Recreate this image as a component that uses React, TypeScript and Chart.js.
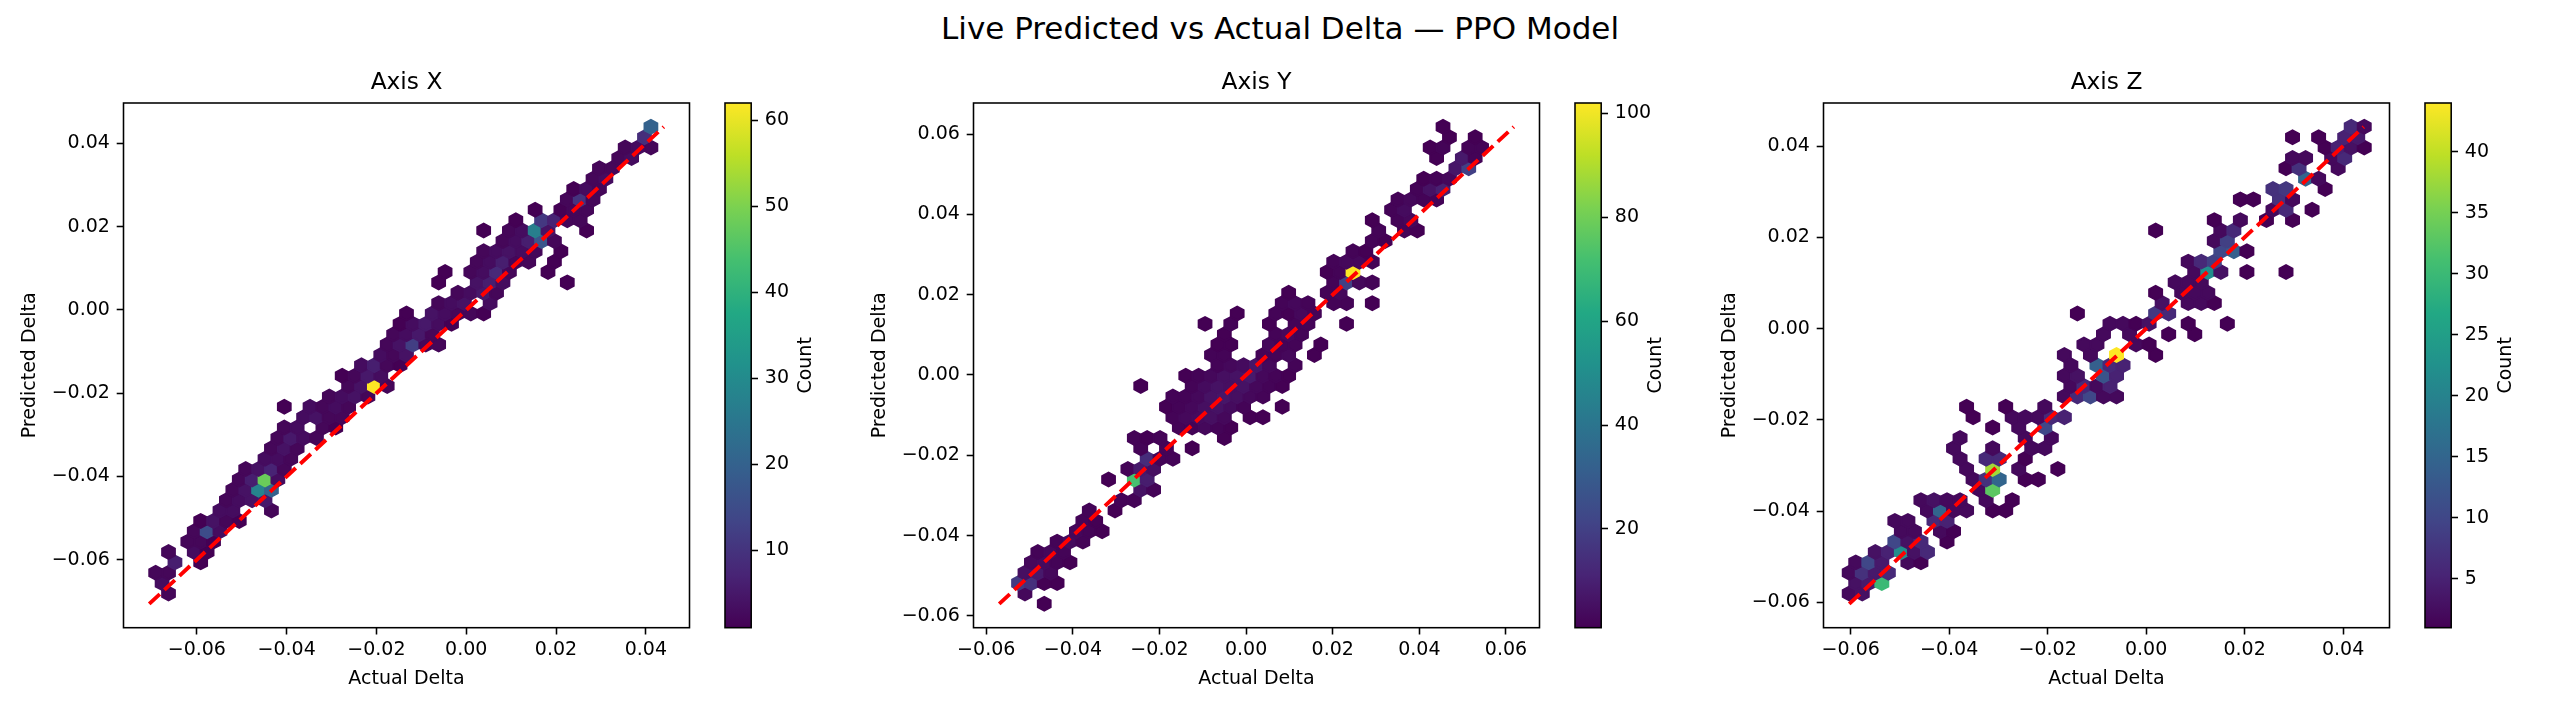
import React, { useEffect, useRef } from 'react'
import { Chart, registerables } from 'chart.js'

Chart.register(...registerables)

const FONT = "'DejaVu Sans', 'Liberation Sans', sans-serif"
Chart.defaults.font.family = FONT
Chart.defaults.color = '#000'

// diagonal (ideal) line end points per axis
const lineX = [-0.0706, 0.044]
const lineY = [-0.057, 0.0618]
const lineZ = [-0.0603, 0.0442]

// hex lattice per panel: [x0, y0, half column step, half row step] (data units)
// a cell [col, row, count] sits at x = x0 + col * hx, y = y0 + row * hy
const hexGridX = [-0.0706, -0.0706, 0.0014325, 0.0024913]
const hexGridY = [-0.057, -0.057, 0.001485, 0.0025826]
const hexGridZ = [-0.0603, -0.0603, 0.001324, 0.002272]

const ticksX = [-0.06, -0.04, -0.02, 0, 0.02, 0.04]
const ticksY = [-0.06, -0.04, -0.02, 0, 0.02, 0.04, 0.06]
const ticksZ = [-0.06, -0.04, -0.02, 0, 0.02, 0.04]

const cbTicksX = [10, 20, 30, 40, 50, 60]
const cbTicksY = [20, 40, 60, 80, 100]
const cbTicksZ = [5, 10, 15, 20, 25, 30, 35, 40]

const cellsX = [
  [3, 1, 2], [2, 2, 3], [1, 3, 2], [3, 3, 2], [4, 4, 6], [8, 4, 1],
  [3, 5, 2], [7, 5, 3], [9, 5, 1], [6, 6, 2], [8, 6, 2], [10, 6, 1],
  [7, 7, 2], [9, 7, 15], [11, 7, 3], [8, 8, 1], [10, 8, 4], [12, 8, 2], [14, 8, 1],
  [11, 9, 3], [13, 9, 3], [19, 9, 2], [12, 10, 2], [14, 10, 3], [16, 10, 4], [18, 10, 5],
  [13, 11, 2], [15, 11, 4], [17, 11, 28], [19, 11, 20],
  [14, 12, 2], [16, 12, 6], [18, 12, 48], [20, 12, 3],
  [15, 13, 2], [17, 13, 4], [19, 13, 7], [21, 13, 2],
  [18, 14, 3], [20, 14, 3], [22, 14, 2], [19, 15, 2], [21, 15, 4], [23, 15, 2],
  [20, 16, 2], [22, 16, 5], [24, 16, 3], [26, 16, 2],
  [21, 17, 2], [23, 17, 3], [27, 17, 2], [29, 17, 1],
  [24, 18, 3], [26, 18, 4], [28, 18, 2], [30, 18, 2],
  [21, 19, 1], [25, 19, 3], [27, 19, 2], [29, 19, 3], [31, 19, 2],
  [28, 20, 2], [30, 20, 3], [32, 20, 4], [34, 20, 2],
  [31, 21, 2], [33, 21, 4], [35, 21, 62], [37, 21, 2],
  [30, 22, 1], [32, 22, 2], [34, 22, 5], [36, 22, 3],
  [33, 23, 3], [35, 23, 6], [37, 23, 2], [39, 23, 1],
  [36, 24, 3], [38, 24, 2], [40, 24, 4],
  [37, 25, 2], [39, 25, 4], [41, 25, 12], [43, 25, 2], [45, 25, 2],
  [38, 26, 2], [40, 26, 3], [42, 26, 5], [44, 26, 2],
  [39, 27, 1], [41, 27, 3], [43, 27, 5], [45, 27, 3], [47, 27, 1],
  [40, 28, 1], [44, 28, 4], [46, 28, 3], [48, 28, 2], [50, 28, 2], [52, 28, 1],
  [45, 29, 2], [47, 29, 3], [49, 29, 4], [53, 29, 3],
  [48, 30, 2], [50, 30, 3], [52, 30, 5], [54, 30, 2],
  [45, 31, 1], [51, 31, 4], [53, 31, 6], [55, 31, 3], [65, 31, 1],
  [46, 32, 1], [50, 32, 2], [52, 32, 3], [54, 32, 8], [56, 32, 2], [62, 32, 1],
  [51, 33, 2], [53, 33, 3], [55, 33, 6], [57, 33, 2], [59, 33, 2], [63, 33, 1],
  [52, 34, 2], [54, 34, 3], [56, 34, 4], [58, 34, 3], [60, 34, 2], [64, 34, 1],
  [55, 35, 2], [57, 35, 3], [59, 35, 6], [61, 35, 17], [63, 35, 2],
  [52, 36, 1], [56, 36, 2], [58, 36, 3], [60, 36, 27], [62, 36, 4], [68, 36, 1],
  [57, 37, 1], [61, 37, 11], [63, 37, 7], [65, 37, 2], [67, 37, 2],
  [60, 38, 1], [64, 38, 1], [66, 38, 2], [68, 38, 2],
  [65, 39, 2], [67, 39, 10], [69, 39, 2], [66, 40, 1], [68, 40, 3], [70, 40, 2],
  [69, 41, 2], [71, 41, 3], [70, 42, 2], [72, 42, 2], [73, 43, 2], [75, 43, 3],
  [74, 44, 2], [76, 44, 3], [78, 44, 2], [77, 45, 9], [78, 46, 20],
]

const cellsY = [
  [7, 0, 1], [4, 1, 3], [3, 2, 18], [5, 2, 15], [7, 2, 1], [9, 2, 1],
  [4, 3, 5], [6, 3, 8], [8, 3, 3], [5, 4, 3], [7, 4, 4], [9, 4, 2], [11, 4, 1],
  [6, 5, 2], [8, 5, 3], [10, 5, 2], [9, 6, 2], [11, 6, 4], [13, 6, 2],
  [12, 7, 3], [14, 7, 2], [16, 7, 1], [13, 8, 2], [15, 8, 1], [14, 9, 2], [18, 9, 1],
  [19, 10, 2], [21, 10, 2], [22, 11, 6], [24, 11, 2],
  [17, 12, 1], [21, 12, 72], [23, 12, 9], [20, 13, 2], [22, 13, 8], [24, 13, 5],
  [23, 14, 14], [25, 14, 2], [27, 14, 2], [22, 15, 2], [26, 15, 2], [30, 15, 1],
  [21, 16, 2], [23, 16, 1], [25, 16, 2], [35, 16, 1],
  [28, 17, 2], [30, 17, 2], [32, 17, 3], [34, 17, 2], [36, 17, 1],
  [27, 18, 2], [29, 18, 3], [31, 18, 4], [33, 18, 5], [35, 18, 3], [39, 18, 1], [41, 18, 1],
  [26, 19, 1], [28, 19, 2], [30, 19, 3], [32, 19, 5], [34, 19, 6], [36, 19, 4], [38, 19, 2], [44, 19, 1],
  [27, 20, 2], [29, 20, 2], [31, 20, 3], [33, 20, 6], [35, 20, 7], [37, 20, 5], [39, 20, 3], [41, 20, 2],
  [22, 21, 1], [30, 21, 2], [32, 21, 4], [34, 21, 6], [36, 21, 5], [38, 21, 6], [40, 21, 3], [42, 21, 2], [44, 21, 1],
  [29, 22, 1], [31, 22, 2], [33, 22, 3], [35, 22, 5], [37, 22, 6], [39, 22, 8], [41, 22, 3], [43, 22, 2], [45, 22, 1],
  [34, 23, 2], [36, 23, 3], [38, 23, 4], [40, 23, 7], [42, 23, 3], [46, 23, 2],
  [33, 24, 2], [35, 24, 2], [41, 24, 2], [43, 24, 2], [45, 24, 3], [49, 24, 1],
  [34, 25, 1], [36, 25, 1], [42, 25, 3], [44, 25, 2], [46, 25, 2], [50, 25, 1],
  [35, 26, 1], [43, 26, 2], [45, 26, 3], [47, 26, 2],
  [32, 27, 1], [36, 27, 2], [42, 27, 1], [46, 27, 2], [48, 27, 2], [54, 27, 1],
  [37, 28, 1], [43, 28, 2], [45, 28, 1], [47, 28, 3], [49, 28, 2],
  [44, 29, 2], [46, 29, 3], [48, 29, 2], [52, 29, 2], [54, 29, 2], [58, 29, 1],
  [45, 30, 1], [51, 30, 2], [53, 30, 3],
  [52, 31, 2], [54, 31, 20], [56, 31, 3], [58, 31, 2],
  [51, 32, 1], [53, 32, 2], [55, 32, 102],
  [52, 33, 2], [54, 33, 3], [56, 33, 3], [58, 33, 2],
  [55, 34, 2], [57, 34, 1], [58, 35, 2], [60, 35, 1],
  [59, 36, 2], [63, 36, 2], [65, 36, 1], [58, 37, 1], [62, 37, 2], [64, 37, 3],
  [61, 38, 2], [63, 38, 4], [62, 39, 2], [64, 39, 3], [66, 39, 2], [68, 39, 2],
  [65, 40, 2], [67, 40, 6], [69, 40, 10], [66, 41, 1], [68, 41, 2], [70, 41, 3],
  [71, 42, 7], [73, 42, 20], [68, 43, 1], [72, 43, 8], [74, 43, 2],
  [67, 44, 1], [69, 44, 2], [73, 44, 2], [75, 44, 2], [70, 45, 1], [74, 45, 1], [69, 46, 1],
]

const cellsZ = [
  [0, 1, 2], [2, 1, 3], [1, 2, 3], [3, 2, 4], [5, 2, 30],
  [0, 3, 2], [2, 3, 7], [4, 3, 4], [6, 3, 6],
  [1, 4, 2], [3, 4, 10], [5, 4, 4], [9, 4, 2], [11, 4, 1],
  [4, 5, 3], [6, 5, 5], [8, 5, 22], [10, 5, 3], [12, 5, 6],
  [7, 6, 10], [9, 6, 3], [11, 6, 6], [15, 6, 1],
  [8, 7, 2], [10, 7, 2], [14, 7, 2], [16, 7, 1],
  [7, 8, 2], [9, 8, 2], [13, 8, 6], [15, 8, 5],
  [12, 9, 2], [14, 9, 15], [16, 9, 2], [18, 9, 2], [22, 9, 1], [24, 9, 1],
  [11, 10, 2], [13, 10, 3], [15, 10, 2], [17, 10, 2], [21, 10, 2], [25, 10, 1],
  [20, 11, 2], [22, 11, 33],
  [19, 12, 2], [21, 12, 7], [23, 12, 15], [27, 12, 1], [29, 12, 1],
  [18, 13, 2], [22, 13, 38], [26, 13, 2], [32, 13, 1],
  [17, 14, 2], [21, 14, 6], [23, 14, 6], [27, 14, 1],
  [16, 15, 2], [22, 15, 2], [28, 15, 2], [30, 15, 2],
  [17, 16, 2], [27, 16, 2], [31, 16, 2],
  [22, 17, 1], [26, 17, 2], [30, 17, 10],
  [19, 18, 1], [25, 18, 2], [27, 18, 2], [29, 18, 2], [31, 18, 6], [33, 18, 5],
  [18, 19, 1], [24, 19, 1], [30, 19, 2],
  [33, 20, 2], [35, 20, 6], [37, 20, 10], [39, 20, 2], [41, 20, 2],
  [34, 21, 2], [36, 21, 6], [38, 21, 2], [40, 21, 5],
  [33, 22, 2], [35, 22, 3], [39, 22, 12], [41, 22, 5],
  [34, 23, 2], [38, 23, 14], [40, 23, 6], [42, 23, 5],
  [33, 24, 2], [37, 24, 2], [41, 24, 44], [47, 24, 1],
  [36, 25, 2], [38, 25, 2], [44, 25, 2], [46, 25, 1],
  [39, 26, 2], [43, 26, 2], [49, 26, 1], [53, 26, 1],
  [40, 27, 2], [42, 27, 2], [44, 27, 1], [46, 27, 3], [52, 27, 1], [58, 27, 1],
  [35, 28, 1], [47, 28, 8], [49, 28, 6],
  [48, 29, 3], [52, 29, 2], [54, 29, 2], [56, 29, 1],
  [47, 30, 1], [51, 30, 2], [53, 30, 2], [55, 30, 2],
  [50, 31, 2], [52, 31, 2], [54, 31, 2],
  [53, 32, 2], [55, 32, 22], [57, 32, 3], [61, 32, 1], [67, 32, 1],
  [52, 33, 2], [54, 33, 6], [56, 33, 9],
  [57, 34, 10], [59, 34, 14], [61, 34, 1],
  [56, 35, 2], [58, 35, 9],
  [47, 36, 1], [57, 36, 2], [59, 36, 6],
  [56, 37, 1], [60, 37, 2], [64, 37, 1], [68, 37, 1],
  [65, 38, 2], [67, 38, 6], [71, 38, 1],
  [60, 39, 1], [62, 39, 1], [66, 39, 7], [68, 39, 2],
  [65, 40, 7], [67, 40, 8], [73, 40, 1],
  [70, 41, 15], [72, 41, 2],
  [67, 42, 1], [69, 42, 7], [75, 42, 2],
  [68, 43, 2], [70, 43, 2], [74, 43, 2], [76, 43, 6],
  [73, 44, 1], [75, 44, 5], [77, 44, 3], [79, 44, 1],
  [68, 45, 1], [72, 45, 1], [76, 45, 5], [78, 45, 4],
  [77, 46, 6], [79, 46, 2],
]

const VIRIDIS = ['#440154', '#482475', '#414487', '#355f8d', '#2a788e', '#21918c', '#22a884', '#44bf70', '#7ad151', '#bddf26', '#fde725']

// layout in page pixels
const PANEL_STEP = 850
const PLOT_LEFT = 123.5
const PLOT_WIDTH = 566
const PLOT_TOP = 103
const X_AXIS_H = 83.3
const PLOT_CANVAS_W = 710
const CB_GAP = 601.4
const CB_WIDTH = 26.2
const CB_CANVAS_W = 130
const CB_PAD_LEFT = 10

function hexToRgb(h: string) {
  const n = parseInt(h.slice(1), 16)
  return [(n >> 16) & 255, (n >> 8) & 255, n & 255]
}

function viridis(t: number) {
  const v = Math.max(0, Math.min(1, t)) * (VIRIDIS.length - 1)
  const i = Math.min(Math.floor(v), VIRIDIS.length - 2)
  const f = v - i
  const a = hexToRgb(VIRIDIS[i])
  const b = hexToRgb(VIRIDIS[i + 1])
  const c = a.map((x, k) => Math.round(x + (b[k] - x) * f))
  return `rgb(${c[0]},${c[1]},${c[2]})`
}

function fmt(v: number) {
  return v.toFixed(2).replace('-', '\u2212')
}

// matplotlib hexbin polygon, in units of [sx, sy / 3]
const HEX_SHAPE = [[0.5, -0.5], [0.5, 0.5], [0, 1], [-0.5, 0.5], [-0.5, -0.5], [0, -1]]

const hexbinPlugin = {
  id: 'hexbin',
  beforeDatasetsDraw(chart: any) {
    const ds = chart.data.datasets[0]
    if (!ds || !ds.hex) return
    const { ctx, chartArea: a, scales } = chart
    const { sx, sy, vmax } = ds.hex
    ctx.save()
    ctx.beginPath()
    ctx.rect(a.left, a.top, a.width, a.height)
    ctx.clip()
    ctx.lineWidth = 1.9
    ctx.lineJoin = 'miter'
    for (const p of ds.data) {
      const color = viridis((p.n - 1) / (vmax - 1))
      ctx.beginPath()
      HEX_SHAPE.forEach(([dx, dy], i) => {
        const px = scales.x.getPixelForValue(p.x + dx * sx)
        const py = scales.y.getPixelForValue(p.y + (dy * sy) / 3)
        if (i === 0) ctx.moveTo(px, py)
        else ctx.lineTo(px, py)
      })
      ctx.closePath()
      ctx.fillStyle = color
      ctx.strokeStyle = color
      ctx.fill()
      ctx.stroke()
    }
    ctx.restore()
  },
}

const framePlugin = {
  id: 'frame',
  afterDraw(chart: any) {
    const { ctx, chartArea: a } = chart
    ctx.save()
    ctx.strokeStyle = '#000'
    ctx.lineWidth = 1.56
    ctx.strokeRect(a.left, a.top, a.width, a.height)
    ctx.restore()
  },
}

const sideLabelPlugin = {
  id: 'sideLabel',
  afterDraw(chart: any, _args: any, opts: any) {
    if (!opts || !opts.text) return
    const { ctx, chartArea: a } = chart
    ctx.save()
    ctx.translate(a.right + opts.offset, (a.top + a.bottom) / 2)
    ctx.rotate(-Math.PI / 2)
    ctx.font = `${opts.size}px ${FONT}`
    ctx.fillStyle = '#000'
    ctx.textAlign = 'center'
    ctx.textBaseline = 'middle'
    ctx.fillText(opts.text, 0, 0)
    ctx.restore()
  },
}

function cbGradient(chart: any) {
  const a = chart.chartArea
  if (!a) return VIRIDIS[0]
  const g = chart.ctx.createLinearGradient(0, a.bottom, 0, a.top)
  VIRIDIS.forEach((c, i) => g.addColorStop(i / (VIRIDIS.length - 1), c))
  return g
}

const tickGrid = { drawOnChartArea: false, drawTicks: true, tickLength: 6.8, tickWidth: 1.56, tickColor: '#000' }

interface PanelProps {
  index: number
  title: string
  line: number[]
  grid: number[]
  ticks: number[]
  cells: number[][]
  cbTicks: number[]
}

function Panel({ index, title, line, grid, ticks, cells, cbTicks }: PanelProps) {
  const plotRef = useRef<HTMLCanvasElement>(null)
  const barRef = useRef<HTMLCanvasElement>(null)

  useEffect(() => {
    if (!plotRef.current || !barRef.current) return
    const [lo, hi] = line
    const span = hi - lo
    const axisMin = lo - 0.05 * span
    const axisMax = hi + 0.05 * span
    const [x0, y0, hx, hy] = grid
    const vmax = Math.max(...cells.map((c) => c[2]))
    const points = cells.map(([c, r, n]) => ({ x: x0 + c * hx, y: y0 + r * hy, n }))

    const tickFont = { size: 19, family: FONT }

    const plot = new Chart(plotRef.current, {
      type: 'scatter',
      data: {
        datasets: [
          {
            type: 'scatter',
            data: points,
            hex: { sx: 2 * hx, sy: 2 * hy, vmax },
            pointRadius: 0,
            pointHoverRadius: 0,
            pointHitRadius: 0,
          } as any,
          {
            type: 'line',
            data: [{ x: lo, y: lo }, { x: hi, y: hi }],
            borderColor: '#ff0000',
            borderWidth: 3.9,
            borderDash: [14.4, 6.2],
            pointRadius: 0,
            fill: false,
            tension: 0,
          } as any,
        ],
      },
      options: {
        animation: false,
        responsive: true,
        maintainAspectRatio: false,
        events: [],
        layout: { padding: { left: 0, right: PLOT_CANVAS_W - PLOT_LEFT - PLOT_WIDTH, top: 0, bottom: 0 } },
        plugins: {
          legend: { display: false },
          tooltip: { enabled: false },
          title: {
            display: true,
            text: title,
            fullSize: false,
            color: '#000',
            font: { size: 23.3, weight: 'normal', family: FONT, lineHeight: 1.2 },
            padding: { top: 69, bottom: PLOT_TOP - 69 - 23.3 * 1.2 },
          },
        },
        scales: {
          x: {
            type: 'linear',
            min: axisMin,
            max: axisMax,
            afterBuildTicks: (s: any) => {
              s.ticks = ticks.map((v) => ({ value: v }))
            },
            afterFit: (s: any) => {
              s.height = X_AXIS_H
            },
            ticks: { font: tickFont, color: '#000', padding: 4.5, maxRotation: 0, autoSkip: false, callback: (v: any) => fmt(Number(v)) },
            grid: tickGrid,
            border: { display: false },
            title: { display: true, text: 'Actual Delta', color: '#000', font: { size: 19, family: FONT, lineHeight: 1.2 }, padding: { top: 0, bottom: 21 } },
          },
          y: {
            type: 'linear',
            min: axisMin,
            max: axisMax,
            afterBuildTicks: (s: any) => {
              s.ticks = ticks.map((v) => ({ value: v }))
            },
            afterFit: (s: any) => {
              s.width = PLOT_LEFT
            },
            ticks: { font: tickFont, color: '#000', padding: 6.8, autoSkip: false, callback: (v: any) => fmt(Number(v)) },
            grid: tickGrid,
            border: { display: false },
            title: { display: true, text: 'Predicted Delta', color: '#000', font: { size: 19, family: FONT, lineHeight: 1.2 }, padding: { top: 19, bottom: 0 } },
          },
        },
      } as any,
      plugins: [hexbinPlugin, framePlugin],
    })

    const bar = new Chart(barRef.current, {
      type: 'bar',
      data: {
        labels: ['Count'],
        datasets: [
          {
            data: [[1, vmax]],
            backgroundColor: (c: any) => cbGradient(c.chart),
            borderWidth: 0,
            barPercentage: 1,
            categoryPercentage: 1,
          } as any,
        ],
      },
      options: {
        animation: false,
        responsive: true,
        maintainAspectRatio: false,
        events: [],
        layout: { padding: { left: CB_PAD_LEFT, right: 0, top: PLOT_TOP, bottom: X_AXIS_H } },
        plugins: {
          legend: { display: false },
          tooltip: { enabled: false },
          sideLabel: { text: 'Count', offset: 55, size: 19 },
        },
        scales: {
          x: { display: false },
          y: {
            position: 'right',
            min: 1,
            max: vmax,
            afterBuildTicks: (s: any) => {
              s.ticks = cbTicks.map((v) => ({ value: v }))
            },
            afterFit: (s: any) => {
              s.width = CB_CANVAS_W - CB_PAD_LEFT - CB_WIDTH
            },
            ticks: { font: tickFont, color: '#000', padding: 6.8, autoSkip: false, callback: (v: any) => String(v) },
            grid: tickGrid,
            border: { display: false },
          },
        },
      } as any,
      plugins: [framePlugin, sideLabelPlugin],
    })

    return () => {
      plot.destroy()
      bar.destroy()
    }
  }, [line, grid, ticks, cells, cbTicks, title])

  const left = index * PANEL_STEP
  return (
    <>
      <div style={{ position: 'absolute', left, top: 0, width: PLOT_CANVAS_W, height: 711 }}>
        <canvas ref={plotRef} />
      </div>
      <div
        style={{
          position: 'absolute',
          left: left + PLOT_LEFT + CB_GAP - CB_PAD_LEFT,
          top: 0,
          width: CB_CANVAS_W,
          height: 711,
        }}
      >
        <canvas ref={barRef} />
      </div>
    </>
  )
}

export default function App() {
  return (
    <div style={{ position: 'absolute', left: 0, top: 0, width: 2560, height: 711, background: '#fff', overflow: 'hidden' }}>
      <div
        style={{
          position: 'absolute',
          left: 0,
          top: 0,
          width: 2560,
          textAlign: 'center',
          fontFamily: FONT,
          fontSize: 31,
          lineHeight: '56px',
          color: '#000',
        }}
      >
        Live Predicted vs Actual Delta — PPO Model
      </div>
      <Panel index={0} title="Axis X" line={lineX} grid={hexGridX} ticks={ticksX} cells={cellsX} cbTicks={cbTicksX} />
      <Panel index={1} title="Axis Y" line={lineY} grid={hexGridY} ticks={ticksY} cells={cellsY} cbTicks={cbTicksY} />
      <Panel index={2} title="Axis Z" line={lineZ} grid={hexGridZ} ticks={ticksZ} cells={cellsZ} cbTicks={cbTicksZ} />
    </div>
  )
}
